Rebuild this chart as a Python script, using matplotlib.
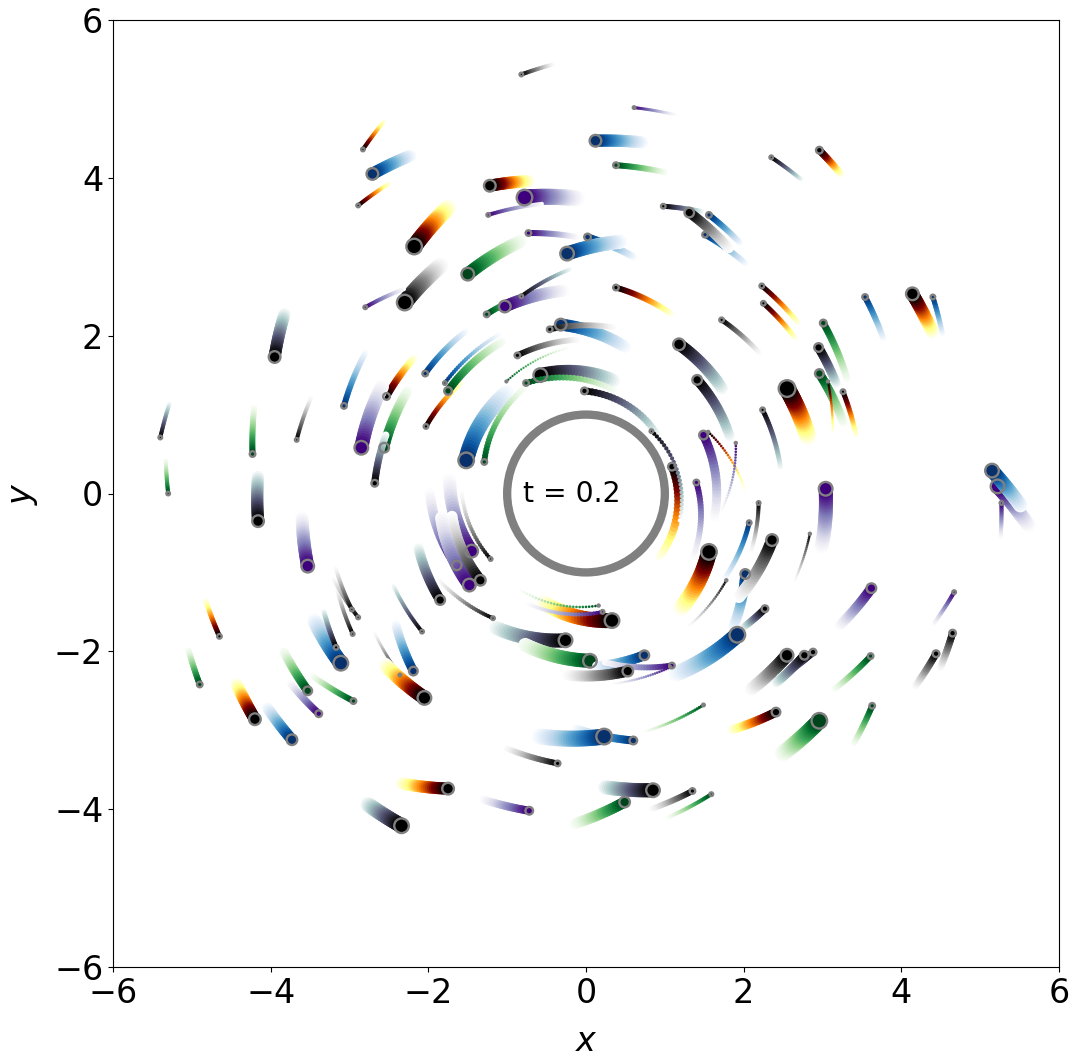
import numpy as np
import matplotlib
matplotlib.use('Agg')
import matplotlib.pyplot as plt

# one entry per particle, drawn in this order
cmap_name = [
    'Greys_r', 'afmhot', 'Blues_r', 'afmhot', 'afmhot', 'Purples_r', 'Purples_r', 'afmhot', 'Purples_r', 'Blues_r',
    'Blues_r', 'Greens_r', 'Greys_r', 'Purples_r', 'Greens_r', 'Purples_r', 'bone', 'Blues_r', 'Greys_r', 'Blues_r',
    'Purples_r', 'Blues_r', 'Greens_r', 'bone', 'afmhot', 'bone', 'Blues_r', 'Blues_r', 'Greys_r', 'afmhot',
    'Blues_r', 'afmhot', 'Blues_r', 'afmhot', 'afmhot', 'Greys_r', 'bone', 'bone', 'Greens_r', 'bone',
    'Greens_r', 'afmhot', 'afmhot', 'afmhot', 'bone', 'Purples_r', 'afmhot', 'Purples_r', 'Purples_r', 'Purples_r',
    'Greys_r', 'Blues_r', 'afmhot', 'Blues_r', 'Greys_r', 'Greys_r', 'Greys_r', 'Purples_r', 'Purples_r', 'bone',
    'Blues_r', 'Greys_r', 'bone', 'bone', 'Greens_r', 'Greys_r', 'Greys_r', 'Greens_r', 'Greens_r', 'afmhot',
    'Greens_r', 'Greys_r', 'Greens_r', 'afmhot', 'Purples_r', 'Greens_r', 'bone', 'Greys_r', 'Greens_r', 'Blues_r',
    'Purples_r', 'Purples_r', 'Greys_r', 'Blues_r', 'Blues_r', 'Greys_r', 'bone', 'Greens_r', 'afmhot', 'Purples_r',
    'bone', 'Greys_r', 'afmhot', 'Blues_r', 'bone', 'Greys_r', 'Greys_r', 'Greys_r', 'Blues_r', 'bone',
    'Greens_r', 'Purples_r', 'Greens_r', 'afmhot', 'Blues_r', 'Greens_r', 'afmhot', 'bone', 'bone', 'Greens_r',
    'Greys_r', 'Blues_r', 'afmhot', 'Purples_r', 'Greens_r', 'bone', 'Greens_r', 'bone', 'Purples_r', 'afmhot',
    'Blues_r', 'Greens_r', 'Blues_r', 'Greens_r', 'Greys_r', 'Greens_r', 'bone', 'Greens_r', 'bone', 'afmhot',
    'bone', 'Purples_r', 'Purples_r', 'Greys_r', 'Greys_r', 'Purples_r', 'bone', 'Purples_r', 'Blues_r', 'Purples_r',
]
head_x = [
    -0.82, -2.83, -2.71, -2.89, -1.22, -0.78, -1.24, -2.18, -0.73, 0.02,
    -0.24, -1.50, -2.30, -2.80, -1.26, -1.03, -0.82, -0.32, -0.46, -2.04,
    0.61, 0.12, 0.38, 2.35, 2.96, 0.98, 1.56, 1.51, 1.31, 0.38,
    3.54, 4.14, 4.40, 2.23, 2.25, 1.72, 1.18, 1.41, 3.01, 2.95,
    2.96, 2.55, 3.07, 3.26, 2.24, 1.49, 1.55, 1.90, 1.40, 3.04,
    2.19, 2.07, 1.56, 2.02, 2.36, 1.78, 2.84, 3.62, 4.67, 2.27,
    1.92, 2.55, 2.88, 2.77, 3.61, 4.44, 4.65, 3.63, 2.96, 2.41,
    1.49, 1.35, 1.59, 0.33, 0.21, 0.16, -0.26, -1.18, 0.05, 0.74,
    1.09, 1.07, 0.53, 0.60, 0.23, -0.36, 0.85, 0.49, -1.75, -0.72,
    -2.34, -2.36, -2.05, -2.19, -2.08, -2.96, -2.89, -2.97, -3.11, -3.17,
    -3.53, -3.39, -2.95, -4.20, -3.73, -4.90, -4.65, -3.95, -5.40, -4.23,
    -3.67, -3.07, -2.53, -2.85, -2.56, -2.68, -5.30, -4.16, -3.53, -2.03,
    -1.79, -1.75, -1.52, -1.29, -0.87, -1.01, -0.58, -0.76, -0.02, 1.09,
    0.83, -1.64, -1.45, -1.21, -1.34, -1.48, -1.85, 5.22, 5.15, 5.27,
]
head_y = [
    5.31, 4.36, 4.05, 3.65, 3.90, 3.75, 3.53, 3.13, 3.30, 3.25,
    3.04, 2.78, 2.42, 2.36, 2.27, 2.37, 2.50, 2.14, 2.08, 1.52,
    4.89, 4.47, 4.16, 4.26, 4.35, 3.64, 3.53, 3.28, 3.56, 2.61,
    2.49, 2.53, 2.49, 2.63, 2.41, 2.20, 1.89, 1.44, 2.16, 1.85,
    1.52, 1.33, 1.42, 1.29, 1.06, 0.74, 0.78, 0.64, 0.14, 0.06,
    -0.12, -0.37, -0.74, -1.02, -0.59, -1.10, -0.51, -1.20, -1.25, -1.46,
    -1.79, -2.05, -2.01, -2.05, -2.06, -2.03, -1.77, -2.69, -2.88, -2.77,
    -2.68, -3.77, -3.81, -1.61, -1.50, -1.42, -1.86, -1.58, -2.12, -2.05,
    -2.18, -2.20, -2.25, -3.13, -3.08, -3.42, -3.76, -3.91, -3.74, -4.02,
    -4.21, -2.30, -2.59, -2.25, -1.75, -1.78, -1.57, -1.47, -2.15, -1.95,
    -2.50, -2.79, -2.63, -2.86, -3.12, -2.42, -1.81, 1.73, 0.71, 0.50,
    0.68, 1.11, 1.23, 0.58, 0.58, 0.13, 0.00, -0.35, -0.92, 0.85,
    1.40, 1.30, 0.42, 0.40, 1.75, 1.42, 1.50, 1.40, 1.30, 0.34,
    0.79, -0.91, -0.73, -0.83, -1.10, -1.16, -1.35, 0.09, 0.29, -0.12,
]
tail_x = [
    -0.41, -2.55, -2.23, -2.48, -0.71, -0.12, -0.56, -1.73, -0.12, 0.60,
    0.43, -0.84, -1.83, -2.31, -0.71, -0.29, -0.18, 0.49, 0.37, -1.53,
    1.13, 0.71, 1.00, 2.74, 3.24, 1.48, 1.95, 2.02, 1.81, 1.11,
    3.77, 4.40, 4.52, 2.71, 2.67, 2.21, 1.74, 1.83, 3.31, 3.18,
    3.26, 2.82, 3.13, 3.43, 2.47, 1.63, 2.03, 1.72, 1.36, 2.99,
    2.09, 1.76, 1.19, 1.87, 1.94, 1.29, 2.64, 3.22, 4.41, 1.99,
    1.15, 2.08, 2.46, 2.40, 3.16, 4.17, 4.49, 3.40, 2.50, 1.83,
    0.77, 0.82, 1.05, -0.56, -0.73, -0.82, -1.17, -1.89, -0.77, 0.14,
    0.24, 0.35, -0.25, -0.12, -0.58, -1.03, 0.22, -0.13, -2.36, -1.30,
    -2.78, -2.69, -2.55, -2.41, -2.45, -3.16, -3.21, -3.18, -3.44, -3.33,
    -3.83, -3.75, -3.46, -4.44, -4.04, -5.04, -4.83, -3.82, -5.28, -4.21,
    -3.48, -2.80, -2.17, -2.59, -2.27, -2.54, -5.33, -4.16, -3.60, -1.56,
    -1.11, -1.07, -1.01, -0.79, -0.08, -0.24, 0.37, 0.35, 0.92, 0.90,
    1.19, -1.98, -1.73, -1.58, -1.70, -1.83, -2.13, 5.61, 5.51, 5.26,
]
tail_y = [
    5.44, 4.73, 4.28, 3.94, 3.96, 3.74, 3.67, 3.64, 3.25, 3.00,
    3.19, 3.19, 2.90, 2.59, 2.54, 2.57, 2.85, 1.86, 2.10, 2.05,
    4.80, 4.45, 4.07, 3.97, 4.04, 3.57, 3.18, 2.92, 3.11, 2.26,
    1.97, 2.03, 2.03, 2.14, 1.95, 1.77, 1.31, 0.70, 1.46, 1.38,
    0.91, 0.70, 0.76, 0.72, 0.31, -0.29, 0.01, -0.21, -0.80, -0.67,
    -0.74, -1.07, -1.47, -1.69, -1.31, -1.69, -1.12, -1.67, -1.65, -1.70,
    -2.28, -2.49, -2.33, -2.41, -2.47, -2.45, -2.22, -3.16, -3.29, -3.00,
    -3.01, -4.00, -4.10, -1.37, -1.40, -1.23, -1.69, -1.07, -1.92, -2.19,
    -2.14, -2.41, -2.30, -2.98, -3.08, -3.22, -3.72, -4.18, -3.67, -3.88,
    -3.93, -1.75, -2.17, -1.67, -1.15, -1.20, -1.07, -0.93, -1.62, -1.48,
    -2.01, -2.41, -2.32, -2.40, -2.72, -1.99, -1.34, 2.29, 1.15, 1.08,
    1.23, 1.78, 1.73, 1.35, 1.29, 0.74, 0.42, 0.23, -0.31, 1.42,
    2.01, 1.92, 1.27, 1.33, 1.95, 1.84, 1.42, 1.31, 0.72, -0.84,
    -0.34, 0.00, 0.17, 0.04, -0.29, -0.31, -0.67, -0.40, -0.15, -0.55,
]
# width of each particle, in points
width = [
    3.6, 3.6, 9.4, 3.6, 9.4, 12.2, 3.6, 12.2, 5.0, 5.8,
    10.8, 10.1, 12.2, 3.6, 5.0, 9.4, 3.6, 9.4, 5.0, 5.0,
    2.9, 9.4, 5.0, 3.6, 5.8, 4.3, 5.0, 5.0, 7.9, 5.0,
    5.0, 10.1, 4.3, 4.3, 4.3, 4.3, 9.4, 7.9, 5.8, 7.2,
    7.2, 13.0, 2.5, 4.3, 4.3, 7.2, 2.5, 2.5, 5.0, 10.8,
    3.6, 4.3, 12.2, 7.9, 9.4, 2.5, 2.5, 7.9, 3.6, 5.8,
    12.2, 10.1, 5.8, 7.2, 5.0, 5.8, 5.8, 5.0, 12.2, 7.2,
    2.9, 5.0, 3.6, 11.5, 3.6, 2.5, 10.8, 3.6, 10.8, 7.9,
    5.0, 2.5, 8.6, 6.5, 12.2, 5.0, 10.8, 8.6, 9.4, 6.5,
    11.5, 2.9, 10.8, 7.2, 3.6, 3.6, 3.6, 3.6, 11.5, 4.3,
    7.2, 5.8, 5.0, 9.4, 8.6, 5.0, 4.3, 9.4, 3.6, 5.0,
    3.6, 5.0, 5.8, 10.8, 7.9, 5.8, 3.6, 9.4, 10.1, 4.3,
    3.6, 6.5, 12.2, 5.0, 5.0, 2.2, 10.8, 5.0, 5.8, 6.5,
    3.6, 7.9, 10.1, 3.6, 8.6, 10.1, 7.9, 10.8, 10.8, 3.6,
]
ticks = [-6, -4, -2, 0, 2, 4, 6]
time_label = 't = 0.2'

n_trail = 26
ring_lw = 1.7


def trail_xy(x0, y0, x1, y1):
    # the trail follows the orbit, so go round the origin instead of straight
    r0, r1 = np.hypot(x0, y0), np.hypot(x1, y1)
    a0, a1 = np.arctan2(y0, x0), np.arctan2(y1, x1)
    da = (a1 - a0 + np.pi) % (2 * np.pi) - np.pi
    t = np.linspace(0, 1, n_trail)
    r = r0 + (r1 - r0) * t
    a = a0 + da * t
    return r * np.cos(a), r * np.sin(a)


fig = plt.figure(figsize=(10.8, 10.59), dpi=100)
ax = fig.add_axes([113 / 1080, 1 - 967 / 1059, 946 / 1080, 947 / 1059])

for i in range(len(head_x)):
    xs, ys = trail_xy(head_x[i], head_y[i], tail_x[i], tail_y[i])
    colors = plt.get_cmap(cmap_name[i])(np.linspace(0, 1, n_trail))
    # tail first, so the dark end sits on top
    ax.scatter(xs[::-1], ys[::-1], s=(width[i] - 0.6) ** 2, c=colors[::-1], linewidths=0, zorder=2)

# rings go over everything
ring_sizes = [max(w - 1.0, 1.3) ** 2 for w in width]
ax.scatter(head_x, head_y, s=ring_sizes, facecolors='none', edgecolors='gray', linewidths=ring_lw, zorder=3)

ax.add_patch(plt.Circle((0, 0), 1, fill=False, color='gray', lw=6, zorder=4))
ax.text(-0.8, 0, time_label, fontsize=20.3, va='center', ha='left', zorder=5)

ax.set_xlim(-6, 6)
ax.set_ylim(-6, 6)
ax.set_xticks(ticks)
ax.set_yticks(ticks)
ax.tick_params(labelsize=24)
ax.set_xlabel('$x$', fontsize=24, labelpad=11)
ax.set_ylabel('$y$', fontsize=24, labelpad=10)

fig.savefig('out.png', dpi=100)
